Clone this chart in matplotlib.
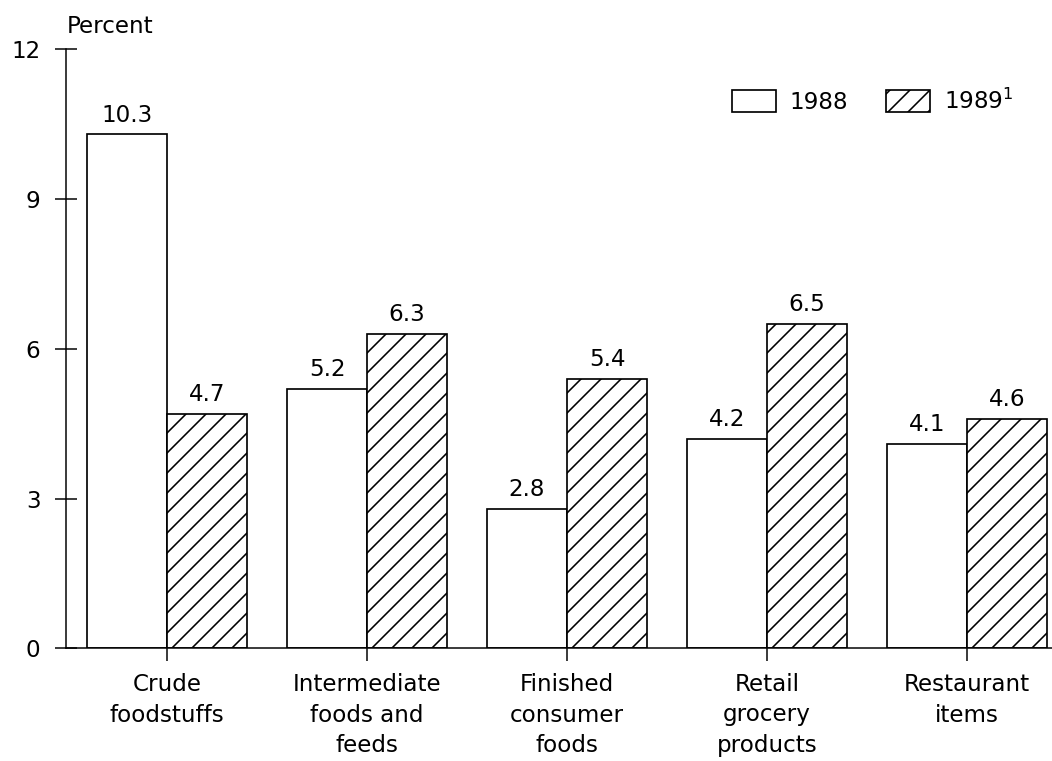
import numpy as np
import matplotlib
matplotlib.use("Agg")
import matplotlib.pyplot as plt

# Food price changes by marketing stage, percent
categories = [
    "Crude\nfoodstuffs",
    "Intermediate\nfoods and\nfeeds",
    "Finished\nconsumer\nfoods",
    "Retail\ngrocery\nproducts",
    "Restaurant\nitems",
]
values_1988 = [10.3, 5.2, 2.8, 4.2, 4.1]
values_1989 = [4.7, 6.3, 5.4, 6.5, 4.6]
series_labels = ["1988", "1989$^{\\mathregular{1}}$"]
y_ticks = [0, 3, 6, 9, 12]

DPI = 120
W, H = 1052, 761


def pt(pixels):
    """Convert a length in output pixels to points."""
    return pixels * 72.0 / DPI


plt.rcParams["font.family"] = ["DejaVu Sans"]
plt.rcParams["hatch.linewidth"] = pt(1.6)
plt.rcParams["hatch.color"] = "black"

fig = plt.figure(figsize=(W / DPI, H / DPI), dpi=DPI)
fig.patch.set_facecolor("white")
ax = fig.add_axes([65.5 / W, (H - 648.3) / H, (W - 65.5) / W, 599 / H])

x = np.arange(len(categories))
bw = 0.4
lw = pt(1.7)
fs = pt(23)

b1 = ax.bar(x - bw / 2, values_1988, width=bw, facecolor="white",
            edgecolor="black", linewidth=lw, label=series_labels[0])
b2 = ax.bar(x + bw / 2, values_1989, width=bw, facecolor="white",
            edgecolor="black", linewidth=lw, hatch="//", label=series_labels[1])

for cont in (b1, b2):
    ax.bar_label(cont, fmt="%.1f", padding=pt(7.6), fontsize=fs)

ax.set_xlim(-0.5075, 4.425)
ax.set_ylim(0, 12)

ax.spines["top"].set_visible(False)
ax.spines["right"].set_visible(False)
for s in ("left", "bottom"):
    ax.spines[s].set_linewidth(pt(1.5))

ax.set_yticks(y_ticks)
ax.set_yticklabels([str(v) for v in y_ticks], fontsize=fs)
ax.tick_params(axis="y", direction="inout", length=pt(22), width=pt(1.5),
               pad=pt(14))

ax.set_xticks(x)
ax.set_xticklabels(categories, fontsize=fs, linespacing=1.4)
ax.tick_params(axis="x", direction="out", length=pt(13), width=pt(1.5),
               pad=pt(12))

fig.text(67 / W, 1 - 33 / H, "Percent", fontsize=fs, ha="left", va="baseline")

ax.legend(handles=[b1, b2], labels=series_labels, ncol=2, frameon=False,
          loc="upper left", bbox_to_anchor=(731.7 / W, 1 - 89 / H),
          bbox_transform=fig.transFigure, fontsize=fs,
          handlelength=44 / 23, handleheight=1.1, handletextpad=0.6,
          columnspacing=1.65, borderpad=0, borderaxespad=0)

fig.savefig("out.png", dpi=DPI)
